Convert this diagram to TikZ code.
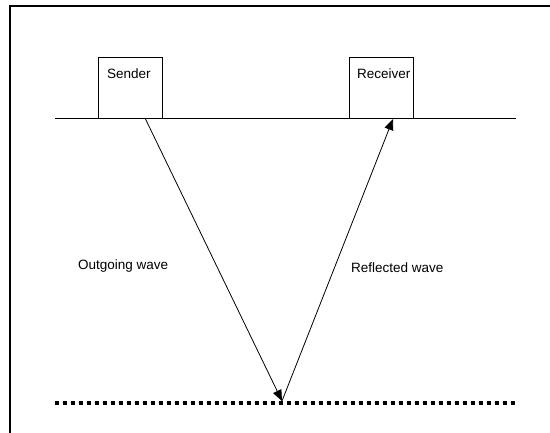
\documentclass[tikz,border=0pt]{standalone}
\usepackage{fontspec}
\setmainfont{Liberation Sans}
\usetikzlibrary{arrows.meta}
\tikzset{
  boite/.style={draw, line width=0.9pt, minimum width=64pt, minimum height=61pt, inner sep=0pt, anchor=north west},
  texte/.style={font=\fontsize{13.5}{16}\selectfont, anchor=west, inner sep=0pt},
  onde/.style={line width=0.8pt, -{Triangle[length=11pt,width=9pt]}}
}
\begin{document}
\begin{tikzpicture}[x=1pt,y=-1pt]
    \useasboundingbox (0,0) rectangle (550,433);
    \draw [line width=2pt](10,433) -- (10,6) -- (550,6);% cadre
    \node [boite] (emetteur) at (98,57) {};
    \node [boite] (recepteur) at (349,57) {};
    \node [texte] (nomemetteur) at (107,74) {Sender};
    \node [texte] (nomrecepteur) at (357,74) {Receiver};
    \draw [line width=0.9pt](55,118) -- (516,118);% surface
    \coordinate (depart) at (145,118);
    \coordinate (fond) at (282,401);
    \coordinate (arrivee) at (393,119);
    \draw [line width=4pt, dash pattern=on 4pt off 4pt](55,403) -- (516,403);% reflecteur
    \draw [onde](depart) -- (fond);
    \draw [onde](fond) -- (arrivee);
    \node [texte] (aller) at (78,266) {Outgoing wave};
    \node [texte] (retour) at (351,268) {Reflected wave};
\end{tikzpicture}
\end{document}
